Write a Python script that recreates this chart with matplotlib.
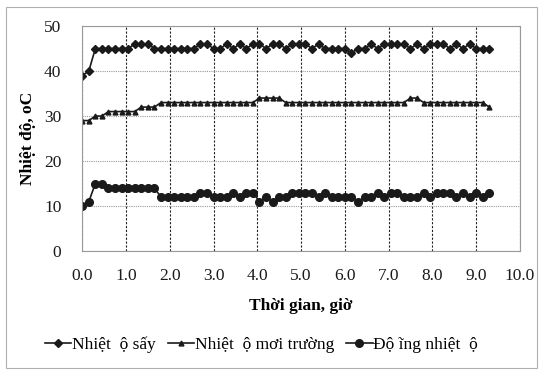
import matplotlib.pyplot as plt
from matplotlib.patches import Rectangle

# time, hours (9 min steps)
time_h = [0.00, 0.15, 0.30, 0.45, 0.60, 0.75, 0.90, 1.05, 1.20, 1.35,
          1.50, 1.65, 1.80, 1.95, 2.10, 2.25, 2.40, 2.55, 2.70, 2.85,
          3.00, 3.15, 3.30, 3.45, 3.60, 3.75, 3.90, 4.05, 4.20, 4.35,
          4.50, 4.65, 4.80, 4.95, 5.10, 5.25, 5.40, 5.55, 5.70, 5.85,
          6.00, 6.15, 6.30, 6.45, 6.60, 6.75, 6.90, 7.05, 7.20, 7.35,
          7.50, 7.65, 7.80, 7.95, 8.10, 8.25, 8.40, 8.55, 8.70, 8.85,
          9.00, 9.15, 9.30]

t_say = [39, 40, 45, 45, 45, 45, 45, 45, 46, 46,
         46, 45, 45, 45, 45, 45, 45, 45, 46, 46,
         45, 45, 46, 45, 46, 45, 46, 46, 45, 46,
         46, 45, 46, 46, 46, 45, 46, 45, 45, 45,
         45, 44, 45, 45, 46, 45, 46, 46, 46, 46,
         45, 46, 45, 46, 46, 46, 45, 46, 45, 46,
         45, 45, 45]

t_moi_truong = [29, 29, 30, 30, 31, 31, 31, 31, 31, 32,
                32, 32, 33, 33, 33, 33, 33, 33, 33, 33,
                33, 33, 33, 33, 33, 33, 33, 34, 34, 34,
                34, 33, 33, 33, 33, 33, 33, 33, 33, 33,
                33, 33, 33, 33, 33, 33, 33, 33, 33, 33,
                34, 34, 33, 33, 33, 33, 33, 33, 33, 33,
                33, 33, 32]

do_am = [10, 11, 15, 15, 14, 14, 14, 14, 14, 14,
         14, 14, 12, 12, 12, 12, 12, 12, 13, 13,
         12, 12, 12, 13, 12, 13, 13, 11, 12, 11,
         12, 12, 13, 13, 13, 13, 12, 13, 12, 12,
         12, 12, 11, 12, 12, 13, 12, 13, 13, 12,
         12, 12, 13, 12, 13, 13, 13, 12, 13, 12,
         13, 12, 13]

labels = ["Nhiệt  ộ sấy", "Nhiệt  ộ mơi trường", "Độ ĩng nhiệt  ộ"]
xticks = [0, 1, 2, 3, 4, 5, 6, 7, 8, 9, 10]
yticks = [0, 10, 20, 30, 40, 50]

plt.rcParams['font.family'] = ['Liberation Serif', 'DejaVu Serif']
plt.rcParams['font.size'] = 12.5

fig = plt.figure(figsize=(5.41, 3.72), dpi=100)
ax = fig.add_axes([0.152, 0.325, 0.809, 0.605])

# outer chart border
fig.patches.append(Rectangle((0.012, 0.012), 0.98, 0.968, transform=fig.transFigure,
                             fill=False, edgecolor='#b0b0b0', linewidth=0.8))

ax.plot(time_h, t_say, color='#1a1a1a', lw=1.2, marker='D', ms=4.5, label=labels[0])
ax.plot(time_h, t_moi_truong, color='#1a1a1a', lw=1.2, marker='^', ms=3.5, label=labels[1])
ax.plot(time_h, do_am, color='#1a1a1a', lw=1.2, marker='o', ms=5.5, label=labels[2])

ax.set_xlim(0, 10)
ax.set_ylim(0, 50)
ax.set_xticks(xticks)
ax.set_xticklabels([f"{v:.1f}" for v in xticks])
ax.set_yticks(yticks)
ax.tick_params(axis='x', length=0, pad=12, colors='#1a1a1a')
ax.tick_params(axis='y', length=0, pad=15, colors='#1a1a1a')

ax.grid(axis='x', color='#222222', linestyle=(0, (2, 1.5)), linewidth=0.8)
ax.grid(axis='y', color='#999999', linestyle=(0, (1, 1)), linewidth=0.8)
for s in ax.spines.values():
    s.set_color('#999999')
    s.set_linestyle((0, (1, 1)))
    s.set_linewidth(0.8)
ax.set_axisbelow(True)

ax.set_xlabel("Thời gian, giờ", fontweight='bold', labelpad=10)
ax.set_ylabel("Nhiệt độ, oC", fontweight='bold', labelpad=6)

ax.legend(loc='upper center', bbox_to_anchor=(0.41, -0.31), ncol=3, frameon=False,
          handlelength=1.5, handletextpad=0.05, columnspacing=0.7)

fig.savefig("out.png", dpi=100)
